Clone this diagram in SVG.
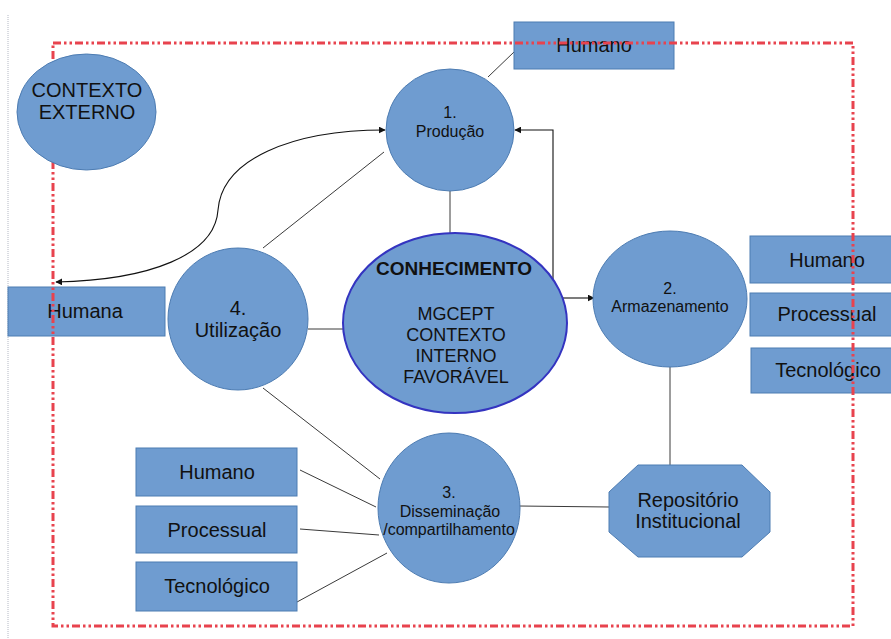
<svg xmlns="http://www.w3.org/2000/svg" width="891" height="639" viewBox="0 0 891 639">
  <defs>
    <marker id="arrow" viewBox="0 0 10 10" refX="9" refY="5" markerWidth="7" markerHeight="7" markerUnits="userSpaceOnUse" orient="auto">
      <path d="M0,0 L10,5 L0,10 z" fill="#111"/>
    </marker>
    <style>
      .node { fill: #6f9cd0; stroke: #4d7cb2; stroke-width: 1; }
      .core { fill: #6f9cd0; stroke: #3434c0; stroke-width: 2; }
      .link { fill: none; stroke: #3a3a3a; stroke-width: 1; }
      .flow { fill: none; stroke: #111; stroke-width: 1.1; marker-end: url(#arrow); }
      text { font-family: "Liberation Sans", Arial, sans-serif; fill: #111; text-anchor: middle; }
      .t20 { font-size: 20px; }
      .t16 { font-size: 16px; }
      .t18 { font-size: 18px; }
      .bold { font-weight: bold; font-size: 19px; }
      .frame { fill: none; stroke: #e8434e; stroke-width: 3; stroke-dasharray: 8 3 2.5 3 2.5 3; }
    </style>
  </defs>

  <!-- page margin guide -->
  <line x1="8" y1="15" x2="8" y2="639" stroke="#b4b8c4" stroke-width="1" stroke-dasharray="1 1"/>

  <g id="connectors">
    <line class="link" x1="514" y1="52" x2="488" y2="77"/>
    <line class="link" x1="450" y1="191" x2="450" y2="233"/>
    <line class="link" x1="263" y1="248" x2="384" y2="152"/>
    <line class="link" x1="308" y1="329" x2="343" y2="329"/>
    <line class="link" x1="263" y1="388" x2="380" y2="479"/>
    <line class="link" x1="300" y1="470" x2="376" y2="507"/>
    <line class="link" x1="300" y1="529" x2="379" y2="535"/>
    <line class="link" x1="297" y1="602" x2="387" y2="553"/>
    <line class="link" x1="519" y1="506" x2="609" y2="507"/>
    <line class="link" x1="670" y1="367" x2="670" y2="465"/>
    <!-- elbow feedback into Produção -->
    <path class="flow" d="M553,279 L553,130 L515,130"/>
    <!-- conhecimento to armazenamento -->
    <path class="flow" d="M562,298 L594,298"/>
    <!-- curved link between Produção and Humana -->
    <path class="flow" d="M218,210 C222,160 290,130 385,130"/>
    <path class="flow" d="M218,210 C215,255 150,280 56,282"/>
  </g>

  <g id="humano-top">
    <rect class="node" x="514" y="22" width="160" height="47"/>
    <text class="t20" x="594" y="52">Humano</text>
  </g>

  <g id="producao">
    <ellipse class="node" cx="450" cy="130" rx="64" ry="61"/>
    <text class="t16" x="450" y="118">1.</text>
    <text class="t16" x="450" y="137">Produção</text>
  </g>

  <g id="armazenamento">
    <ellipse class="node" cx="670" cy="299" rx="77" ry="68"/>
    <text class="t16" x="670" y="294">2.</text>
    <text class="t16" x="670" y="312">Armazenamento</text>
  </g>

  <g id="humano-right">
    <rect class="node" x="750" y="236" width="154" height="47"/>
    <text class="t20" x="827" y="267">Humano</text>
  </g>
  <g id="processual-right">
    <rect class="node" x="750" y="293" width="154" height="43"/>
    <text class="t20" x="827" y="321">Processual</text>
  </g>
  <g id="tecnologico-right">
    <rect class="node" x="751" y="348" width="154" height="45"/>
    <text class="t20" x="828" y="377">Tecnológico</text>
  </g>

  <g id="humana">
    <rect class="node" x="8" y="287" width="157" height="49"/>
    <text class="t20" x="85" y="318">Humana</text>
  </g>

  <g id="utilizacao">
    <ellipse class="node" cx="238" cy="319" rx="70" ry="71"/>
    <text class="t20" x="238" y="315">4.</text>
    <text class="t20" x="238" y="337">Utilização</text>
  </g>

  <g id="conhecimento">
    <ellipse class="core" cx="455" cy="323" rx="112" ry="90"/>
    <text class="bold" x="454" y="275">CONHECIMENTO</text>
    <text class="t18" x="456" y="320">MGCEPT</text>
    <text class="t18" x="456" y="341">CONTEXTO</text>
    <text class="t18" x="456" y="362">INTERNO</text>
    <text class="t18" x="456" y="383">FAVORÁVEL</text>
  </g>

  <g id="disseminacao">
    <ellipse class="node" cx="449" cy="508" rx="71" ry="75"/>
    <text class="t16" x="449" y="498">3.</text>
    <text class="t16" x="450" y="517">Disseminação</text>
    <text class="t16" x="449" y="535">/compartilhamento</text>
  </g>

  <g id="humano-left">
    <rect class="node" x="136" y="448" width="161" height="48"/>
    <text class="t20" x="217" y="479">Humano</text>
  </g>
  <g id="processual-left">
    <rect class="node" x="136" y="506" width="161" height="47"/>
    <text class="t20" x="217" y="537">Processual</text>
  </g>
  <g id="tecnologico-left">
    <rect class="node" x="136" y="562" width="161" height="49"/>
    <text class="t20" x="217" y="593">Tecnológico</text>
  </g>

  <g id="repositorio">
    <polygon class="node" points="638,465 742,465 770,492 770,532 742,557 638,557 609,532 609,492"/>
    <text class="t20" x="688" y="507">Repositório</text>
    <text class="t20" x="688" y="528">Institucional</text>
  </g>

  <!-- internal context boundary -->
  <rect class="frame" x="53" y="43" width="800" height="583"/>

  <g id="contexto-externo">
    <ellipse class="node" cx="86.5" cy="112" rx="69.5" ry="58"/>
    <text class="t20" x="87" y="97">CONTEXTO</text>
    <text class="t20" x="87" y="119">EXTERNO</text>
  </g>
</svg>
